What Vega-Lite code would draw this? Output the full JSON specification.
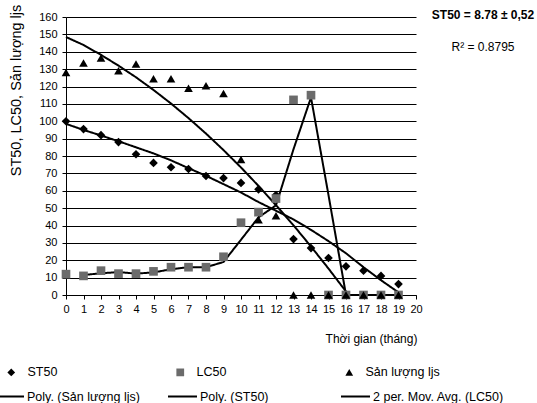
{
  "$schema": "https://vega.github.io/schema/vega-lite/v6.json",
  "width": 350,
  "height": 278,
  "autosize": {"type": "none"},
  "padding": {"left": 66, "top": 17, "right": 121, "bottom": 108},
  "background": "white",
  "config": {
    "font": "Liberation Sans",
    "view": {"stroke": null},
    "axis": {"labelFont": "Liberation Sans", "titleFont": "Liberation Sans", "labelColor": "black", "titleColor": "black", "domainColor": "black", "tickColor": "black", "titleFontWeight": "normal", "labelFontSize": 11, "titleFontSize": 12},
    "legend": {"labelFont": "Liberation Sans", "labelColor": "black", "labelFontSize": 12.5}
  },
  "title": {
    "text": "ST50 = 8.78 ± 0,52",
    "subtitle": "R² = 0.8795",
    "anchor": "end",
    "frame": "group",
    "align": "center",
    "orient": "top",
    "offset": 0,
    "dx": 67,
    "dy": 50,
    "font": "Liberation Sans",
    "fontSize": 12,
    "fontWeight": "bold",
    "color": "black",
    "subtitleFont": "Liberation Sans",
    "subtitleFontSize": 12,
    "subtitleColor": "black",
    "subtitlePadding": 20
  },
  "datasets": {
    "obs": [
      {"x": 0, "v": 100, "series": "ST50"},
      {"x": 1, "v": 95.5, "series": "ST50"},
      {"x": 2, "v": 92, "series": "ST50"},
      {"x": 3, "v": 88, "series": "ST50"},
      {"x": 4, "v": 81, "series": "ST50"},
      {"x": 5, "v": 76, "series": "ST50"},
      {"x": 6, "v": 73.5, "series": "ST50"},
      {"x": 7, "v": 72.5, "series": "ST50"},
      {"x": 8, "v": 68.5, "series": "ST50"},
      {"x": 9, "v": 67.3, "series": "ST50"},
      {"x": 10, "v": 64.5, "series": "ST50"},
      {"x": 11, "v": 60.8, "series": "ST50"},
      {"x": 12, "v": 57.5, "series": "ST50"},
      {"x": 13, "v": 32.2, "series": "ST50"},
      {"x": 14, "v": 27, "series": "ST50"},
      {"x": 15, "v": 21.3, "series": "ST50"},
      {"x": 16, "v": 16.5, "series": "ST50"},
      {"x": 17, "v": 14, "series": "ST50"},
      {"x": 18, "v": 11, "series": "ST50"},
      {"x": 19, "v": 6.3, "series": "ST50"},
      {"x": 0, "v": 12, "series": "LC50"},
      {"x": 1, "v": 11, "series": "LC50"},
      {"x": 2, "v": 14, "series": "LC50"},
      {"x": 3, "v": 12.3, "series": "LC50"},
      {"x": 4, "v": 12.3, "series": "LC50"},
      {"x": 5, "v": 13.6, "series": "LC50"},
      {"x": 6, "v": 16, "series": "LC50"},
      {"x": 7, "v": 16, "series": "LC50"},
      {"x": 8, "v": 16, "series": "LC50"},
      {"x": 9, "v": 22, "series": "LC50"},
      {"x": 10, "v": 41.6, "series": "LC50"},
      {"x": 11, "v": 47.7, "series": "LC50"},
      {"x": 12, "v": 55.5, "series": "LC50"},
      {"x": 13, "v": 112.3, "series": "LC50"},
      {"x": 14, "v": 115, "series": "LC50"},
      {"x": 15, "v": 0, "series": "LC50"},
      {"x": 16, "v": 0, "series": "LC50"},
      {"x": 17, "v": 0, "series": "LC50"},
      {"x": 18, "v": 0, "series": "LC50"},
      {"x": 19, "v": 0, "series": "LC50"},
      {"x": 0, "v": 128, "series": "Sản lượng ljs"},
      {"x": 1, "v": 133.5, "series": "Sản lượng ljs"},
      {"x": 2, "v": 136.4, "series": "Sản lượng ljs"},
      {"x": 3, "v": 129, "series": "Sản lượng ljs"},
      {"x": 4, "v": 133, "series": "Sản lượng ljs"},
      {"x": 5, "v": 124.5, "series": "Sản lượng ljs"},
      {"x": 6, "v": 124.5, "series": "Sản lượng ljs"},
      {"x": 7, "v": 119, "series": "Sản lượng ljs"},
      {"x": 8, "v": 120.5, "series": "Sản lượng ljs"},
      {"x": 9, "v": 116, "series": "Sản lượng ljs"},
      {"x": 10, "v": 78, "series": "Sản lượng ljs"},
      {"x": 11, "v": 43.3, "series": "Sản lượng ljs"},
      {"x": 12, "v": 45.6, "series": "Sản lượng ljs"},
      {"x": 13, "v": 0, "series": "Sản lượng ljs"},
      {"x": 14, "v": 0, "series": "Sản lượng ljs"},
      {"x": 15, "v": 0, "series": "Sản lượng ljs"},
      {"x": 16, "v": 0, "series": "Sản lượng ljs"},
      {"x": 17, "v": 0, "series": "Sản lượng ljs"},
      {"x": 18, "v": 0, "series": "Sản lượng ljs"},
      {"x": 19, "v": 0, "series": "Sản lượng ljs"}
    ],
    "trends": [
      {"x": 0, "v": 148.5, "trend": "Poly. (Sản lượng ljs)"},
      {"x": 1, "v": 143.9, "trend": "Poly. (Sản lượng ljs)"},
      {"x": 2, "v": 138.2, "trend": "Poly. (Sản lượng ljs)"},
      {"x": 3, "v": 132, "trend": "Poly. (Sản lượng ljs)"},
      {"x": 4, "v": 125.3, "trend": "Poly. (Sản lượng ljs)"},
      {"x": 5, "v": 118, "trend": "Poly. (Sản lượng ljs)"},
      {"x": 6, "v": 110.2, "trend": "Poly. (Sản lượng ljs)"},
      {"x": 7, "v": 101.8, "trend": "Poly. (Sản lượng ljs)"},
      {"x": 8, "v": 92.9, "trend": "Poly. (Sản lượng ljs)"},
      {"x": 9, "v": 83.4, "trend": "Poly. (Sản lượng ljs)"},
      {"x": 10, "v": 73.4, "trend": "Poly. (Sản lượng ljs)"},
      {"x": 11, "v": 62.8, "trend": "Poly. (Sản lượng ljs)"},
      {"x": 12, "v": 51.7, "trend": "Poly. (Sản lượng ljs)"},
      {"x": 13, "v": 40.1, "trend": "Poly. (Sản lượng ljs)"},
      {"x": 14, "v": 27.9, "trend": "Poly. (Sản lượng ljs)"},
      {"x": 15, "v": 15.2, "trend": "Poly. (Sản lượng ljs)"},
      {"x": 16, "v": 2, "trend": "Poly. (Sản lượng ljs)"},
      {"x": 16.15, "v": 0, "trend": "Poly. (Sản lượng ljs)"},
      {"x": 0, "v": 98.5, "trend": "Poly. (ST50)"},
      {"x": 1, "v": 95, "trend": "Poly. (ST50)"},
      {"x": 2, "v": 91.8, "trend": "Poly. (ST50)"},
      {"x": 3, "v": 88.5, "trend": "Poly. (ST50)"},
      {"x": 4, "v": 85, "trend": "Poly. (ST50)"},
      {"x": 5, "v": 81.5, "trend": "Poly. (ST50)"},
      {"x": 6, "v": 77.5, "trend": "Poly. (ST50)"},
      {"x": 7, "v": 73, "trend": "Poly. (ST50)"},
      {"x": 8, "v": 68.6, "trend": "Poly. (ST50)"},
      {"x": 9, "v": 63.8, "trend": "Poly. (ST50)"},
      {"x": 10, "v": 59, "trend": "Poly. (ST50)"},
      {"x": 11, "v": 53.5, "trend": "Poly. (ST50)"},
      {"x": 12, "v": 48.5, "trend": "Poly. (ST50)"},
      {"x": 13, "v": 43.5, "trend": "Poly. (ST50)"},
      {"x": 14, "v": 37.5, "trend": "Poly. (ST50)"},
      {"x": 15, "v": 31, "trend": "Poly. (ST50)"},
      {"x": 16, "v": 24, "trend": "Poly. (ST50)"},
      {"x": 17, "v": 16, "trend": "Poly. (ST50)"},
      {"x": 18, "v": 8.5, "trend": "Poly. (ST50)"},
      {"x": 19, "v": 1.5, "trend": "Poly. (ST50)"},
      {"x": 1, "v": 11.5, "trend": "2 per. Mov. Avg. (LC50)"},
      {"x": 2, "v": 12.5, "trend": "2 per. Mov. Avg. (LC50)"},
      {"x": 3, "v": 13.2, "trend": "2 per. Mov. Avg. (LC50)"},
      {"x": 4, "v": 12.3, "trend": "2 per. Mov. Avg. (LC50)"},
      {"x": 5, "v": 13, "trend": "2 per. Mov. Avg. (LC50)"},
      {"x": 6, "v": 14.8, "trend": "2 per. Mov. Avg. (LC50)"},
      {"x": 7, "v": 16, "trend": "2 per. Mov. Avg. (LC50)"},
      {"x": 8, "v": 16, "trend": "2 per. Mov. Avg. (LC50)"},
      {"x": 9, "v": 19, "trend": "2 per. Mov. Avg. (LC50)"},
      {"x": 10, "v": 31.8, "trend": "2 per. Mov. Avg. (LC50)"},
      {"x": 11, "v": 44.7, "trend": "2 per. Mov. Avg. (LC50)"},
      {"x": 12, "v": 51.6, "trend": "2 per. Mov. Avg. (LC50)"},
      {"x": 13, "v": 83.9, "trend": "2 per. Mov. Avg. (LC50)"},
      {"x": 14, "v": 113.7, "trend": "2 per. Mov. Avg. (LC50)"},
      {"x": 15, "v": 57.5, "trend": "2 per. Mov. Avg. (LC50)"},
      {"x": 16, "v": 0, "trend": "2 per. Mov. Avg. (LC50)"},
      {"x": 17, "v": 0, "trend": "2 per. Mov. Avg. (LC50)"},
      {"x": 18, "v": 0, "trend": "2 per. Mov. Avg. (LC50)"},
      {"x": 19, "v": 0, "trend": "2 per. Mov. Avg. (LC50)"}
    ]
  },
  "encoding": {
    "x": {
      "field": "x", "type": "quantitative",
      "scale": {"domain": [0, 20], "nice": false, "zero": true},
      "axis": {
        "values": [0,1,2,3,4,5,6,7,8,9,10,11,12,13,14,15,16,17,18,19,20],
        "format": "d", "grid": false, "tickSize": 4, "labelPadding": 4,
        "labelFlush": false, "labelOverlap": false,
        "title": "Thời gian (tháng)",
        "titleAnchor": "start", "titleAlign": "center", "titleX": 305, "titleY": 43, "titleBaseline": "middle"
      }
    },
    "y": {
      "field": "v", "type": "quantitative",
      "scale": {"domain": [0, 160], "nice": false},
      "axis": {
        "values": [0,10,20,30,40,50,60,70,80,90,100,110,120,130,140,150,160],
        "grid": true, "gridColor": "black", "gridOpacity": 1, "gridWidth": 1,
        "tickSize": 4, "labelPadding": 5, "labelFlush": false, "labelOverlap": false,
        "title": "ST50, LC50, Sản lượng ljs",
        "titleFontSize": 14.5,
        "titleAngle": -90, "titleAlign": "center", "titleBaseline": "middle",
        "titleX": -50, "titleY": 73
      }
    }
  },
  "layer": [
    {
      "data": {"name": "trends"},
      "mark": {"type": "line", "color": "black", "strokeWidth": 2},
      "encoding": {
        "strokeDash": {
          "field": "trend", "type": "nominal",
          "scale": {"domain": ["Poly. (Sản lượng ljs)", "Poly. (ST50)", "2 per. Mov. Avg. (LC50)"], "range": [[1, 0], [1, 0], [1, 0]]},
          "legend": {
            "title": null, "orient": "none", "legendX": -72, "legendY": 364,
            "direction": "horizontal", "columns": 3, "gridAlign": "all", "columnPadding": 6,
            "symbolType": "stroke", "symbolSize": 841, "symbolStrokeWidth": 2, "symbolStrokeColor": "black",
            "labelOffset": 2
          }
        }
      }
    },
    {
      "data": {"name": "obs"},
      "mark": {"type": "point", "filled": true, "size": 75, "opacity": 1},
      "encoding": {
        "shape": {
          "field": "series", "type": "nominal",
          "scale": {"domain": ["ST50", "LC50", "Sản lượng ljs"], "range": ["diamond", "square", "triangle-up"]},
          "legend": {
            "title": null, "orient": "none", "legendX": -61, "legendY": 349,
            "direction": "horizontal", "columns": 3, "gridAlign": "all", "columnPadding": 72,
            "symbolSize": 60, "labelOffset": 10
          }
        },
        "color": {
          "field": "series", "type": "nominal",
          "scale": {"domain": ["ST50", "LC50", "Sản lượng ljs"], "range": ["black", "#6b6b6b", "black"]},
          "legend": {
            "title": null, "orient": "none", "legendX": -61, "legendY": 349,
            "direction": "horizontal", "columns": 3, "gridAlign": "all", "columnPadding": 72,
            "symbolSize": 60, "labelOffset": 10
          }
        }
      }
    }
  ]
}
